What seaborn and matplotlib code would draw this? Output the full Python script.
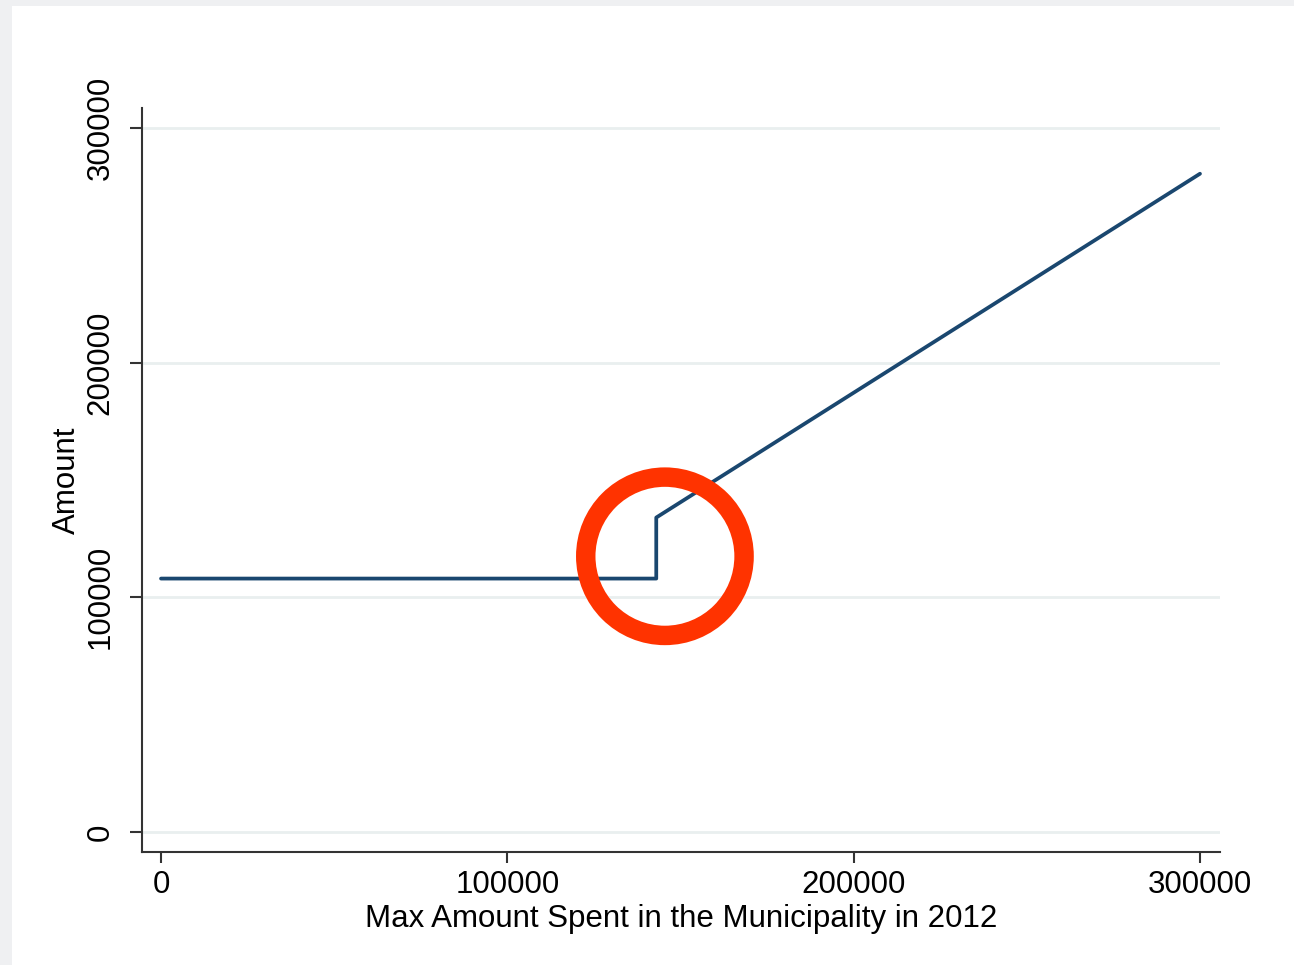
import numpy as np
import pandas as pd
import matplotlib
matplotlib.use("Agg")
import matplotlib.pyplot as plt
import seaborn as sns
from matplotlib.patches import Rectangle

# data
max_spent = [0, 143000, 143000, 300000]
amount = [108000, 108000, 134000, 280500]
x_ticks = [0, 100000, 200000, 300000]
y_ticks = [0, 100000, 200000, 300000]
circle_x = [145500]
circle_y = [117500]

sns.set_theme(style="white")
plt.rcParams['font.family'] = ['Liberation Sans', 'DejaVu Sans']

df = pd.DataFrame({'max_spent': max_spent, 'amount': amount})

fig = plt.figure(figsize=(12.94, 9.65), dpi=100)
fig.patch.set_facecolor('#eff0f2')
fig.patches.append(Rectangle((12 / 1294, 0), 1, 1 - 6 / 965, transform=fig.transFigure,
                             facecolor='white', edgecolor='none', zorder=-10))
ax = fig.add_axes([142 / 1294, 1 - 852 / 965, (1220 - 142) / 1294, (852 - 108) / 965])
ax.set_facecolor('white')

for yv in y_ticks:
    ax.axhline(yv, color='#e9efef', lw=2, zorder=1)

sns.lineplot(data=df, x='max_spent', y='amount', ax=ax, color='#1a476f', lw=2.7,
             sort=False, estimator=None, zorder=3)

ax.scatter(circle_x, circle_y, s=114 ** 2, facecolors='none', edgecolors='#ff3300',
           linewidths=14, zorder=4)

ax.set_xlim(-5490, 305780)
ax.set_ylim(-8510, 308510)
ax.set_xticks(x_ticks)
ax.set_yticks(y_ticks)
ax.set_xticklabels([str(v) for v in x_ticks])
ax.set_yticklabels([str(v) for v in y_ticks], rotation=90, va='center')

for side in ['top', 'right']:
    ax.spines[side].set_visible(False)
for side in ['left', 'bottom']:
    ax.spines[side].set_color('#333333')
    ax.spines[side].set_linewidth(1.5)

ax.tick_params(axis='x', direction='out', length=8, width=1.5, color='#333333',
               labelsize=22.5, pad=5, bottom=True, labelcolor='black')
ax.tick_params(axis='y', direction='out', length=9, width=1.5, color='#333333',
               labelsize=22.5, pad=10, left=True, labelcolor='black')

ax.set_xlabel('Max Amount Spent in the Municipality in 2012', fontsize=22.5,
              labelpad=3, color='black')
ax.set_ylabel('Amount', fontsize=22.5, labelpad=3, color='black')

fig.savefig('out.png', dpi=100, facecolor=fig.get_facecolor())
